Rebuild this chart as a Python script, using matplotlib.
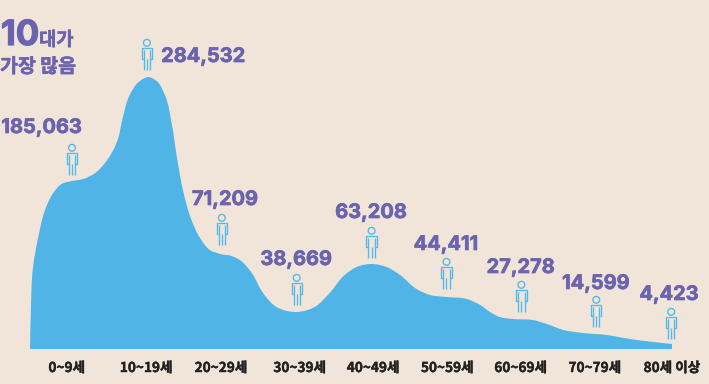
import numpy as np
import matplotlib
matplotlib.use("Agg")
import matplotlib.pyplot as plt
import matplotlib.patheffects as pe
from matplotlib.path import Path
from matplotlib.patches import PathPatch

plt.rcParams['font.family'] = ['Inter', 'Noto Sans CJK KR', 'DejaVu Sans']

# ── data ──────────────────────────────────────────────────────────────────────
age_bands = ["0~9세", "10~19세", "20~29세", "30~39세", "40~49세",
             "50~59세", "60~69세", "70~79세", "80세 이상"]
counts = [185063, 284532, 71209, 38669, 63208, 44411, 27278, 14599, 4423]

# outline of the area (x in age bands, y in relative height)
curve_x = [-0.56, -0.55, -0.52, -0.45, -0.36, -0.25, -0.14, 0.00, 0.15, 0.31,
           0.46, 0.60, 0.68, 0.77, 0.89, 1.02, 1.13, 1.24, 1.33, 1.40, 1.49,
           1.58, 1.71, 1.84, 1.98, 2.13, 2.24, 2.40, 2.55, 2.73,
           3.00, 3.24, 3.44, 3.64, 3.80, 4.00, 4.20, 4.38, 4.60, 4.78,
           5.00, 5.27, 5.45, 5.58, 5.71, 5.89, 6.15, 6.34, 6.56, 6.82,
           7.14, 7.45, 7.76, 8.01]
curve_y = [0, 36, 82, 112, 139, 156, 165, 168, 170, 176,
           188, 207, 232, 254, 267, 272, 268, 254, 226, 192, 156,
           132, 111, 99, 95, 93, 89, 76, 56, 42,
           37, 42, 56, 74, 82, 85, 82, 74, 60, 54,
           52, 50, 44, 37, 32, 30, 29, 25, 19, 16,
           14, 10, 7, 5]

# where the person icons stand and where the numbers sit
icon_base = [174, 279, 104, 44, 91, 60, 37, 22, 10]
count_x = [-0.41, 1.75, 2.04, 2.99, 3.99, 4.99, 5.99, 6.99, 7.97]
count_y = [221, 292, 149, 89, 136, 104, 81, 65, 54]
tick_x = [-0.07, 0.99, 1.99, 3.04, 4.02, 5.01, 5.99, 6.98, 8.01]

bg = "#F0E5D8"
blue = "#50B4E7"
icon_blue = "#4FB8EE"
purple = "#6C63B0"
px_x = 74.9  # pixels per age band

fig = plt.figure(figsize=(7.09, 3.84), dpi=100, facecolor=bg)
ax = fig.add_axes([0, 0, 1, 1])
ax.set_xlim(-72 / px_x, (709 - 72) / px_x)
ax.set_ylim(-35, 349)
ax.axis("off")


# ── area: spline through the knots, parameterised by chord length ─────────────
def smooth_area(xs, ys):
    pts = np.column_stack([np.array(xs) * px_x, ys])
    t = np.r_[0, np.cumsum(np.hypot(*np.diff(pts, axis=0).T))]
    tan = np.gradient(pts, t, axis=0)
    verts = [tuple(pts[0])]
    codes = [Path.MOVETO]
    for i in range(len(pts) - 1):
        dt = t[i + 1] - t[i]
        verts += [tuple(pts[i] + tan[i] * dt / 3),
                  tuple(pts[i + 1] - tan[i + 1] * dt / 3),
                  tuple(pts[i + 1])]
        codes += [Path.CURVE4] * 3
    verts += [(pts[-1, 0], 0), tuple(pts[0])]
    codes += [Path.LINETO, Path.CLOSEPOLY]
    verts = [(x / px_x, y) for x, y in verts]
    return Path(verts, codes)


ax.add_patch(PathPatch(smooth_area(curve_x, curve_y), fc=blue, ec="none"))


# ── person icon, sizes in pixels ──────────────────────────────────────────────
def person(x, base):
    def line(dx, dy):
        ax.plot([x + d / px_x for d in dx], [base + d for d in dy],
                color=icon_blue, lw=0.95, solid_capstyle="butt",
                solid_joinstyle="round")
    a = np.linspace(0, 2 * np.pi, 30)
    line(3.4 * np.cos(a), 27.2 + 3.4 * np.sin(a))
    # arms and shoulders
    line([-3.3, -5.2, -5.2, -3.3], [11, 11, 22, 22])
    line([3.3, 5.2, 5.2, 3.3], [11, 11, 22, 22])
    line([-3.3, 3.3], [22.3, 22.3])
    # torso sides run into the legs
    line([-3.2, -3.2], [0, 20])
    line([3.2, 3.2], [0, 20])
    line([0, 0], [0, 11])


for x, base in enumerate(icon_base):
    person(x, base)


# ── text ──────────────────────────────────────────────────────────────────────
def thick(w, color):
    return [pe.withStroke(linewidth=w, foreground=color)]


kr = ['Noto Sans CJK KR', 'DejaVu Sans']

for x, y, n in zip(count_x, count_y, counts):
    ax.text(x, y, f"{n:,}", color=purple, fontsize=14.4, fontweight="bold",
            ha="center", va="center", path_effects=thick(0.5, purple))

for x, label in zip(tick_x, age_bands):
    ax.text(x, -19, label, color="#222222", fontsize=9.8, fontweight="bold",
            ha="center", va="center", family=kr,
            path_effects=thick(0.3, "#222222"))

ax.text(-0.95, 313, "10", color=purple, fontsize=25, fontweight="bold",
        ha="left", va="center", path_effects=thick(0.8, purple))
ax.text(-0.44, 309, "대가", color=purple, fontsize=13.5, fontweight="bold",
        ha="left", va="center", family=kr, path_effects=thick(0.4, purple))
ax.text(-0.96, 282, "가장 많음", color=purple, fontsize=14, fontweight="bold",
        ha="left", va="center", family=kr, path_effects=thick(0.4, purple))

fig.savefig("out.png", dpi=100, facecolor=bg)
